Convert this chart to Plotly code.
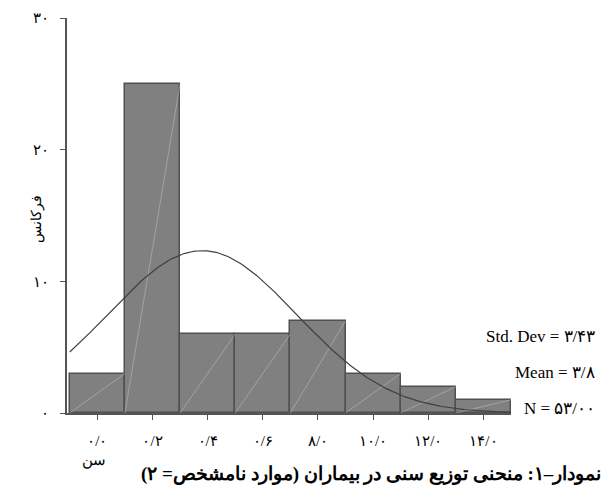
import numpy as np
import plotly.graph_objects as go

# Data
bin_centers = [0, 2, 4, 6, 8, 10, 12, 14]
counts = [3, 25, 6, 6, 7, 3, 2, 1]
bin_width = 2
x_tick_vals = [0, 2, 4, 6, 8, 10, 12, 14]
x_tick_text = ["۰/۰", "۰/۲", "۰/۴", "۰/۶", "۸/۰", "۱۰/۰", "۱۲/۰", "۱۴/۰"]
y_tick_vals = [0, 10, 20, 30]
y_tick_text = ["۰", "۱۰", "۲۰", "۳۰"]
MEAN = 3.8
SD = 3.43
N = 53
stats_lines = ["Std. Dev = ۳/۴۳", "Mean = ۳/۸", "N = ۵۳/۰۰"]
title_text = "\u202bنمودار–۱: منحنی توزیع سنی در بیماران (موارد نامشخص= ۲)\u202c"
x_title = "سن"
y_title = "فرکانس"

fig = go.Figure()

fig.add_trace(go.Bar(
    x=bin_centers, y=counts, width=bin_width,
    marker=dict(color="#808080", line=dict(color="#505050", width=1.5)),
    hoverinfo="x+y", showlegend=False,
))

# faint diagonals inside each bar (bottom-left to top-right)
dx, dy = [], []
for c, h in zip(bin_centers, counts):
    dx += [c - bin_width / 2, c + bin_width / 2, None]
    dy += [0, h, None]
fig.add_trace(go.Scatter(x=dx, y=dy, mode="lines",
                         line=dict(color="#b8b8b8", width=0.6),
                         hoverinfo="skip", showlegend=False))

# normal curve from the stated mean and standard deviation
xc = np.linspace(bin_centers[0] - bin_width / 2, bin_centers[-1] + bin_width / 2, 200)
yc = N * bin_width / (SD * np.sqrt(2 * np.pi)) * np.exp(-0.5 * ((xc - MEAN) / SD) ** 2)
fig.add_trace(go.Scatter(x=xc, y=yc, mode="lines",
                         line=dict(color="#404040", width=1.2),
                         hoverinfo="skip", showlegend=False))

serif = "Liberation Serif, Times New Roman, serif"

fig.update_layout(
    width=607, height=489,
    margin=dict(l=67, r=96, t=10, b=76),
    paper_bgcolor="white", plot_bgcolor="white",
    bargap=0,
    font=dict(family=serif, size=12, color="black"),
    xaxis=dict(range=[-1.1, 15], tickvals=x_tick_vals, ticktext=x_tick_text,
               showgrid=False, zeroline=False, showline=True,
               linecolor="#555555", linewidth=2, ticks="outside",
               ticklen=5, tickcolor="#555555", tickfont=dict(size=15),
               ticklabelstandoff=8),
    yaxis=dict(range=[0, 30], tickvals=y_tick_vals, ticktext=y_tick_text,
               showgrid=False, zeroline=False, showline=True,
               linecolor="#555555", linewidth=2, ticks="outside",
               ticklen=5, tickcolor="#555555", tickfont=dict(size=15),
               ticklabelstandoff=8),
)

# stats text
for txt, ypx in zip(stats_lines, [335, 372, 408]):
    fig.add_annotation(text=txt, xref="paper", yref="paper",
                       x=(597 - 67) / 444, y=(413 - ypx) / 403,
                       xanchor="right", yanchor="middle", showarrow=False,
                       font=dict(family=serif, size=17))

fig.add_annotation(text=x_title, xref="paper", yref="paper",
                   x=(94 - 67) / 444, y=(413 - 461) / 403,
                   xanchor="center", yanchor="middle", showarrow=False,
                   font=dict(family=serif, size=15))
fig.add_annotation(text=y_title, xref="paper", yref="paper",
                   x=(37 - 67) / 444, y=(413 - 215) / 403,
                   xanchor="center", yanchor="middle", showarrow=False,
                   textangle=-90, font=dict(family=serif, size=14))
fig.add_annotation(text="<b>" + title_text + "</b>", xref="paper", yref="paper",
                   x=(603 - 67) / 444, y=(413 - 475) / 403,
                   xanchor="right", yanchor="middle", showarrow=False,
                   font=dict(family=serif, size=19))

fig.write_html("out.html", config={"displayModeBar": False},
               post_script="document.body.style.margin='0';document.body.style.overflow='hidden';")
